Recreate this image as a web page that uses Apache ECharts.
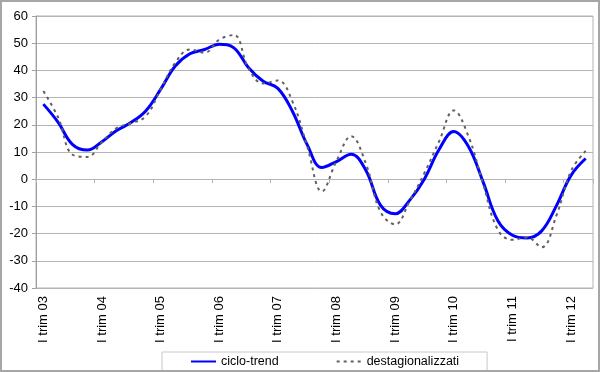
<!DOCTYPE html>
<html>
<head>
<meta charset="utf-8">
<script src="https://cdn.jsdelivr.net/npm/echarts@6/dist/echarts.min.js"></script>
<style>
html,body{margin:0;padding:0;background:#fff;}
#c{width:600px;height:372px;}
</style>
</head>
<body>
<div id="c"></div>
<script>
var categories = [
  "I trim 03","II trim 03","III trim 03","IV trim 03",
  "I trim 04","II trim 04","III trim 04","IV trim 04",
  "I trim 05","II trim 05","III trim 05","IV trim 05",
  "I trim 06","II trim 06","III trim 06","IV trim 06",
  "I trim 07","II trim 07","III trim 07","IV trim 07",
  "I trim 08","II trim 08","III trim 08","IV trim 08",
  "I trim 09","II trim 09","III trim 09","IV trim 09",
  "I trim 10","II trim 10","III trim 10","IV trim 10",
  "I trim 11","II trim 11","III trim 11","IV trim 11",
  "I trim 12","II trim 12"
];
var cicloTrend = [
  27.6, 21.0, 12.7, 10.7,
  13.8, 17.9, 20.9, 25.2,
  33.0, 41.6, 46.1, 47.7,
  49.6, 48.3, 41.0, 36.0,
  33.4, 24.9, 12.7, 4.3,
  6.5, 9.2, 3.3, -9.5,
  -12.7, -7.7, 0.1, 10.9,
  17.5, 12.0, -1.0, -15.2,
  -20.6, -21.6, -19.0, -9.8,
  1.4, 7.6
];
var destagionalizzati = [
  32.4, 22.8, 9.0, 8.2,
  13.7, 18.8, 20.6, 23.2,
  33.0, 42.8, 47.7, 46.5,
  51.3, 53.0, 40.7, 35.2,
  36.3, 28.5, 12.1, -4.5,
  6.7, 15.8, 5.8, -12.0,
  -16.6, -8.0, 2.3, 13.9,
  25.3, 15.8, -1.7, -18.5,
  -22.3, -21.4, -25.0, -13.4,
  3.0, 10.4
];
var yMin = -40, yMax = 60, yStep = 10;

var chart = echarts.init(document.getElementById('c'), null, {renderer:'canvas'});
var font = 'Liberation Sans, Arial, sans-serif';
var gridCol = '#b4b4b4';
chart.setOption({
  animation: false,
  textStyle: {fontFamily: font},
  graphic: [{
    type: 'rect', silent: true, z: 100,
    shape: {x: 1, y: 1, width: 598, height: 370},
    style: {fill: 'none', stroke: '#a6a6a6', lineWidth: 2}
  }],
  grid: {left: 36, right: 7, top: 16, bottom: 84, show: true, borderColor: gridCol, borderWidth: 1},
  legend: {
    left: 162, top: 352,
    padding: [3, 28, 3, 28],
    itemGap: 57, itemWidth: 25, itemHeight: 12,
    borderColor: '#c8c8c8', borderWidth: 1,
    itemStyle: {opacity: 0},
    textStyle: {fontFamily: font, fontSize: 12.5, color: '#000'},
    data: ['ciclo-trend', 'destagionalizzati']
  },
  xAxis: [{
    type: 'category', data: categories, boundaryGap: true, position: 'bottom',
    axisLine: {show: true, onZero: true, lineStyle: {color: gridCol, width: 1}},
    axisTick: {show: true, interval: 3, length: 4, lineStyle: {color: gridCol}},
    axisLabel: {show: false},
    splitLine: {show: false}
  }, {
    type: 'category', data: categories, boundaryGap: true, position: 'bottom',
    axisLine: {show: false, onZero: false},
    axisTick: {show: false},
    axisLabel: {show: true, interval: 3, rotate: 90, margin: 8, fontSize: 13, color: '#000', fontFamily: font},
    splitLine: {show: false}
  }],
  yAxis: {
    type: 'value', min: yMin, max: yMax, interval: yStep,
    axisLine: {show: true, lineStyle: {color: '#a0a0a0', width: 1}},
    axisTick: {show: true, length: 4, lineStyle: {color: '#a0a0a0'}},
    axisLabel: {margin: 8, fontSize: 13, color: '#000', fontFamily: font},
    splitLine: {show: true, lineStyle: {color: gridCol, width: 1}}
  },
  series: [{
    name: 'ciclo-trend', type: 'line', xAxisIndex: 0, data: cicloTrend,
    smooth: 0.4, symbol: 'none', showSymbol: false,
    lineStyle: {color: '#0000ff', width: 3}, itemStyle: {color: '#0000ff'}, z: 3
  }, {
    name: 'destagionalizzati', type: 'line', xAxisIndex: 0, data: destagionalizzati,
    smooth: 0.4, symbol: 'none', showSymbol: false,
    lineStyle: {color: '#606060', width: 2, type: [3, 4]}, itemStyle: {color: '#606060'}, z: 4
  }]
});
</script>
</body>
</html>
